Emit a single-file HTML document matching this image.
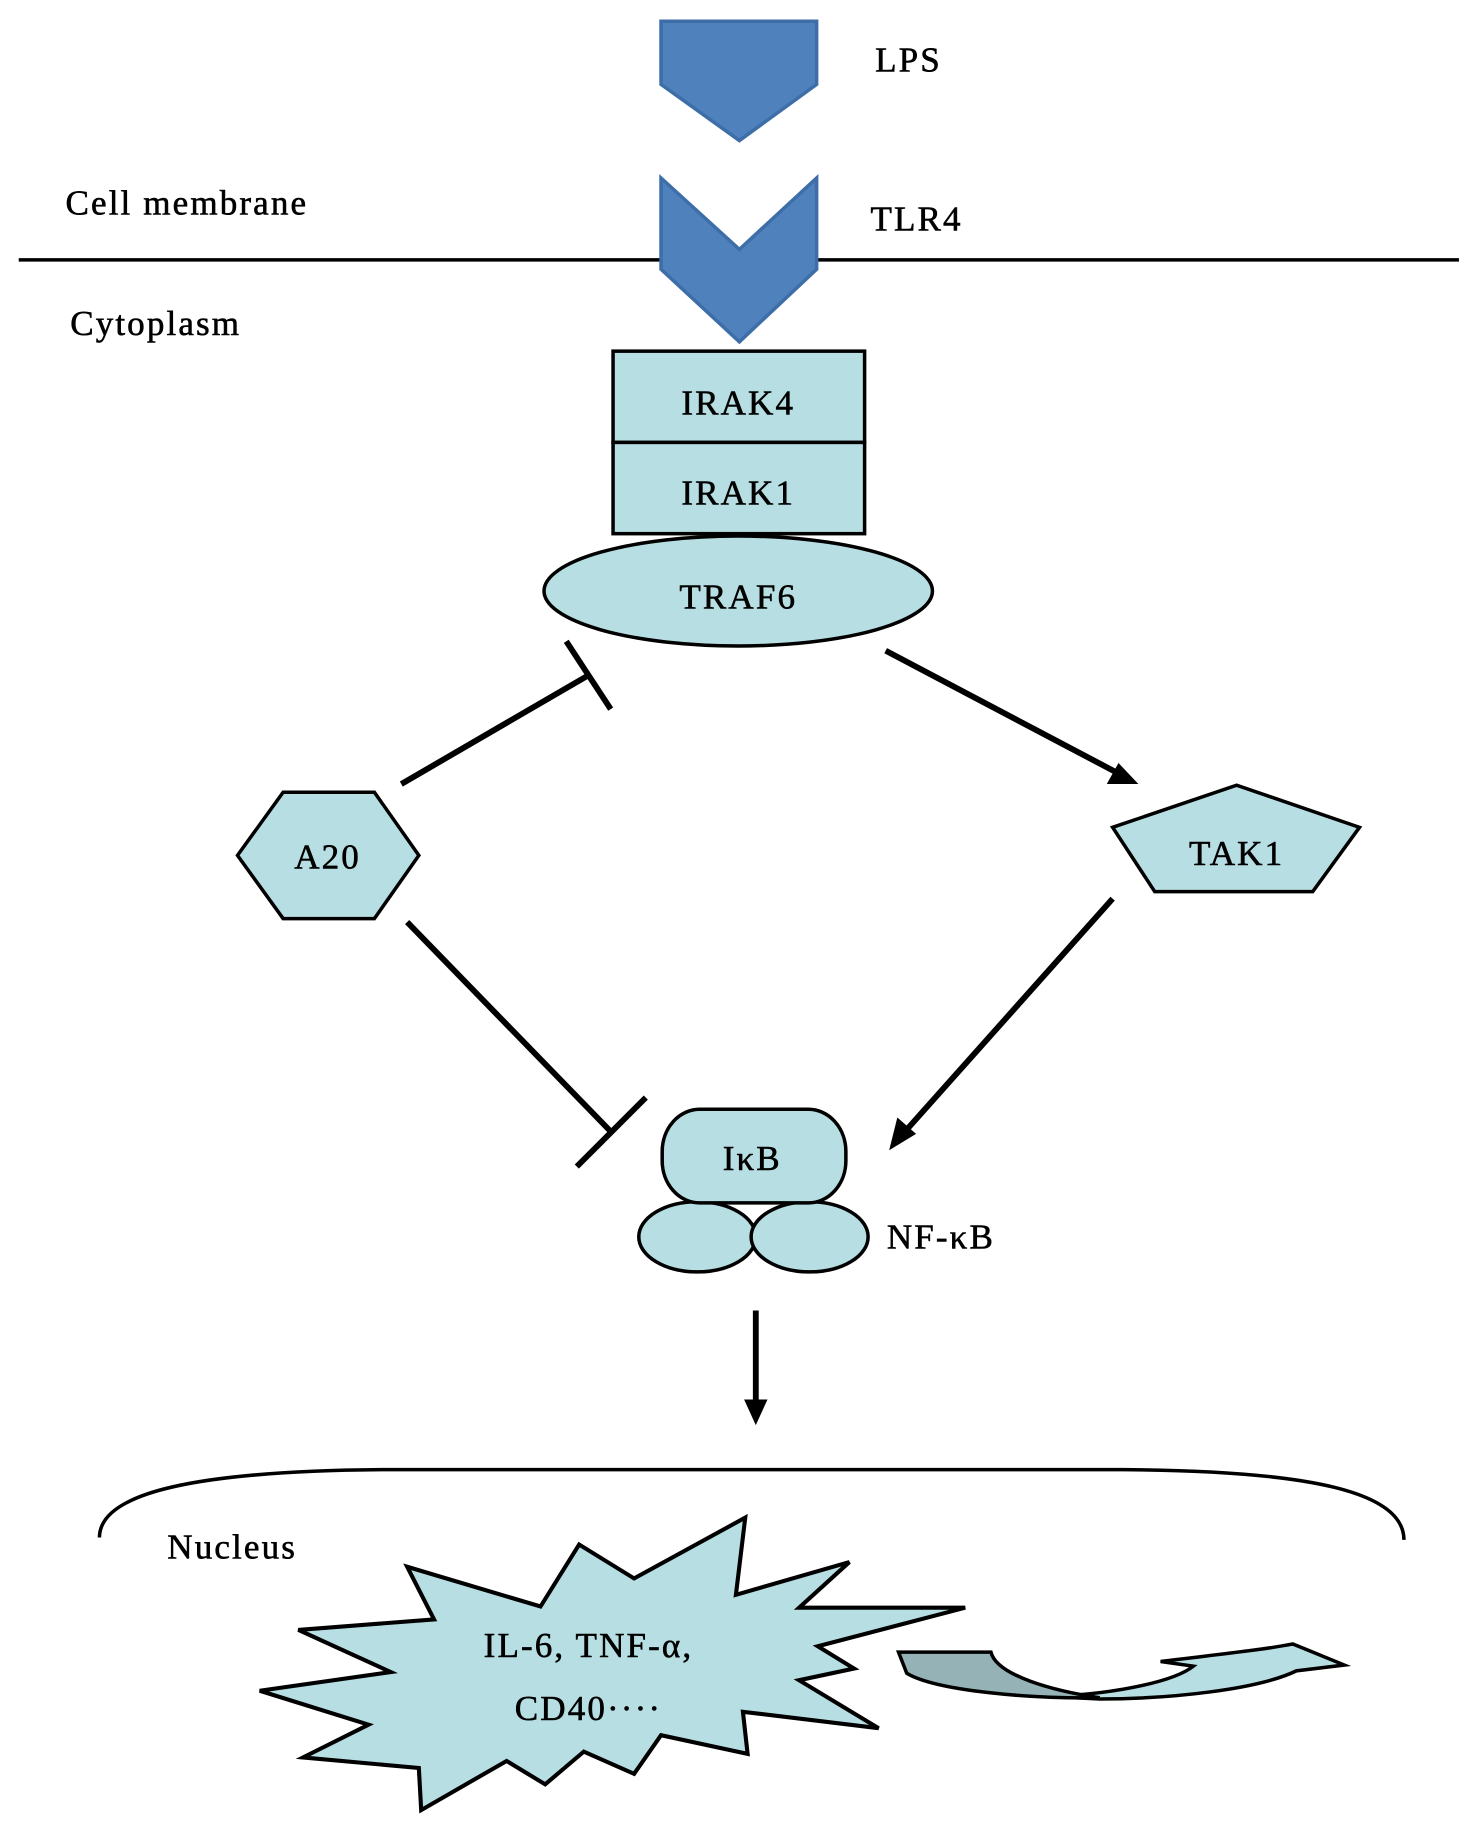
<!DOCTYPE html>
<html><head><meta charset="utf-8"><style>
html,body{margin:0;padding:0;background:#fff;}
svg{display:block;}
text{font-family:"Liberation Serif",serif;fill:#000;stroke:#000;stroke-width:0.5;letter-spacing:1.8px;}
</style></head><body>
<svg width="1480" height="1836" viewBox="0 0 1265 1569" xmlns="http://www.w3.org/2000/svg">
<!-- LPS -->
<polygon points="565,18 698,18 698,72 632,120 565,72" fill="#4f81bd" stroke="#3d6ea8" stroke-width="3"/>
<text x="748" y="61" font-size="30">LPS</text>
<!-- membrane -->
<line x1="16" y1="222" x2="1247" y2="222" stroke="#000" stroke-width="3"/>
<text x="56" y="183" font-size="30">Cell membrane</text>
<text x="60" y="286" font-size="30">Cytoplasm</text>
<!-- TLR4 -->
<polygon points="565,152 632,213 698,152 698,230 632,292 565,230" fill="#4f81bd" stroke="#3d6ea8" stroke-width="3"/>
<text x="744" y="197" font-size="30">TLR4</text>
<!-- IRAK -->
<rect x="524" y="300" width="215" height="78" fill="#b7dfe3" stroke="#000" stroke-width="3"/>
<rect x="524" y="378" width="215" height="78" fill="#b7dfe3" stroke="#000" stroke-width="3"/>
<text x="631" y="354" font-size="30" text-anchor="middle">IRAK4</text>
<text x="631" y="431" font-size="30" text-anchor="middle">IRAK1</text>
<!-- TRAF6 -->
<ellipse cx="631" cy="505" rx="166" ry="47" fill="#b7dfe3" stroke="#000" stroke-width="3"/>
<text x="631" y="520" font-size="30" text-anchor="middle">TRAF6</text>
<!-- A20 -->
<polygon points="203,731 242,677 320,677 358,731 320,785 242,785" fill="#b7dfe3" stroke="#000" stroke-width="3"/>
<text x="280" y="742" font-size="30" text-anchor="middle">A20</text>
<!-- TAK1 -->
<polygon points="951,707 1057,671 1162,707 1122,762 987,762" fill="#b7dfe3" stroke="#000" stroke-width="3"/>
<text x="1057" y="739" font-size="30" text-anchor="middle">TAK1</text>
<!-- IkB NF-kB -->
<ellipse cx="596" cy="1057" rx="50" ry="30" fill="#b7dfe3" stroke="#000" stroke-width="3"/>
<ellipse cx="692" cy="1057" rx="50" ry="30" fill="#b7dfe3" stroke="#000" stroke-width="3"/>
<rect x="566" y="948" width="157" height="80" rx="32" ry="36" fill="#b7dfe3" stroke="#000" stroke-width="3"/>
<text x="643" y="1000" font-size="30" text-anchor="middle">IκB</text>
<text x="758" y="1067" font-size="30">NF-κB</text>
<!-- arrows -->
<line x1="757" y1="556" x2="958" y2="662" stroke="#000" stroke-width="5"/>
<polygon points="973,670 946,670 956,652" fill="#000"/>
<line x1="951" y1="768" x2="770" y2="971" stroke="#000" stroke-width="5"/>
<polygon points="760,983 767,955 783,969" fill="#000"/>
<line x1="646" y1="1120" x2="646" y2="1200" stroke="#000" stroke-width="5"/>
<polygon points="636,1196 656,1196 646,1218" fill="#000"/>
<!-- inhibit -->
<line x1="343" y1="670" x2="503" y2="577" stroke="#000" stroke-width="5"/>
<line x1="484" y1="548" x2="522" y2="606" stroke="#000" stroke-width="5"/>
<line x1="348" y1="788" x2="522" y2="967" stroke="#000" stroke-width="5"/>
<line x1="493" y1="997" x2="552" y2="938" stroke="#000" stroke-width="5"/>
<!-- nucleus -->
<path d="M85,1314 C85,1275 170,1257 330,1256 L960,1256 C1120,1257 1200,1275 1200,1316" fill="none" stroke="#000" stroke-width="3"/>
<text x="143" y="1332" font-size="30">Nucleus</text>
<polygon points="255,1393 371,1384 348,1339 462,1373 495,1320 542,1349 637,1297 629,1363 726,1335 683,1374 825,1374 699,1407 730,1426 683,1436 751,1477 635,1463 639,1499 565,1483 542,1516 499,1497 466,1525 433,1505 360,1547 358,1511 259,1502 315,1474 222,1445 334,1429" fill="#b7dfe3" stroke="#000" stroke-width="3.5" stroke-linejoin="miter"/>
<text x="503" y="1416" font-size="30" text-anchor="middle">IL-6, TNF-α,</text>
<text x="503" y="1470" font-size="30" text-anchor="middle">CD40····</text>
<!-- curved arrow -->
<path d="M900,1450 C960,1447 1005,1436 1020,1424 L992,1420 C1040,1414 1080,1410 1105,1405 L1149,1423 L1108,1428 C1075,1444 1000,1452 940,1452 Z" fill="#b7dfe3" stroke="#000" stroke-width="3" stroke-linejoin="miter"/>
<path d="M768,1412 L847,1412 C852,1432 900,1445 940,1451 C880,1452 800,1445 775,1430 Z" fill="#95b3b7" stroke="#000" stroke-width="3"/>
</svg>
</body></html>
